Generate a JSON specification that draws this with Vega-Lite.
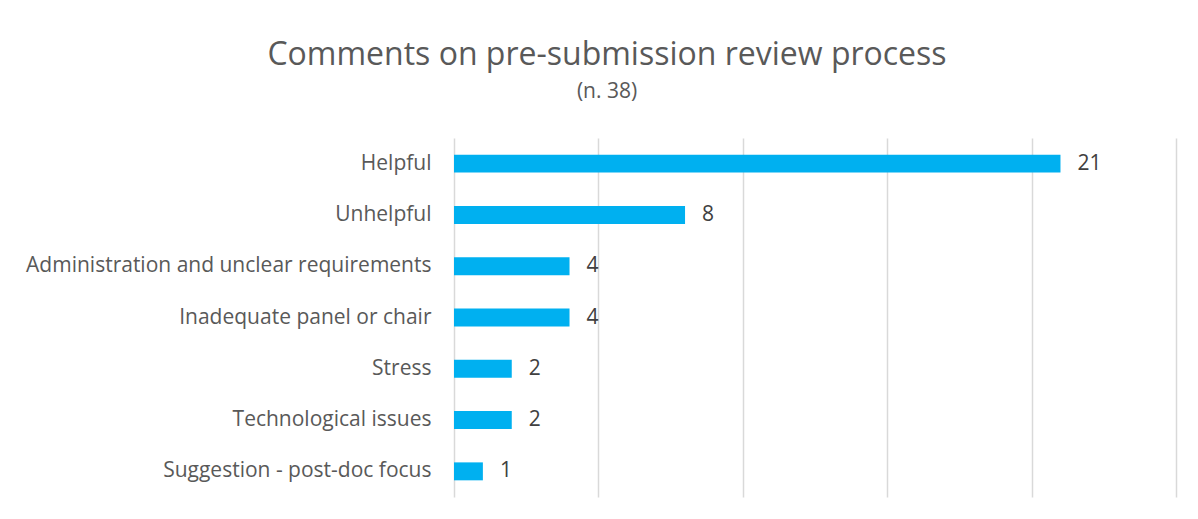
{
  "$schema": "https://vega.github.io/schema/vega-lite/v6.json",
  "autosize": "none",
  "width": 722,
  "height": 359,
  "padding": {"left": 454, "top": 138, "right": 22, "bottom": 22},
  "background": "white",
  "title": {
    "text": "Comments on pre-submission review process",
    "subtitle": "(n. 38)",
    "anchor": "middle",
    "frame": "group",
    "dx": -208,
    "offset": 35,
    "font": "Open Sans",
    "fontSize": 32,
    "fontWeight": "normal",
    "color": "#595959",
    "subtitleFont": "Open Sans",
    "subtitleFontSize": 21,
    "subtitleColor": "#595959",
    "subtitlePadding": 9
  },
  "data": {
    "values": [
      {"category": "Helpful", "count": 21},
      {"category": "Unhelpful", "count": 8},
      {"category": "Administration and unclear requirements", "count": 4},
      {"category": "Inadequate panel or chair", "count": 4},
      {"category": "Stress", "count": 2},
      {"category": "Technological issues", "count": 2},
      {"category": "Suggestion - post-doc focus", "count": 1}
    ]
  },
  "config": {"view": {"stroke": null}},
  "encoding": {
    "y": {
      "field": "category",
      "type": "nominal",
      "sort": null,
      "scale": {"paddingInner": 0.65, "paddingOuter": 0.325},
      "axis": {
        "title": null,
        "domain": false,
        "ticks": false,
        "labelPadding": 23,
        "labelFont": "Open Sans",
        "labelFontSize": 21,
        "labelColor": "#595959",
        "labelLimit": 500
      }
    },
    "x": {
      "field": "count",
      "type": "quantitative",
      "scale": {"domain": [0, 25], "nice": false},
      "axis": {
        "values": [0, 5, 10, 15, 20, 25],
        "title": null,
        "labels": false,
        "ticks": false,
        "domain": false,
        "grid": true,
        "gridColor": "#d9d9d9",
        "gridWidth": 1.5
      }
    }
  },
  "layer": [
    {"mark": {"type": "bar", "color": "#00b0f0"}},
    {
      "mark": {
        "type": "text",
        "align": "left",
        "baseline": "middle",
        "dx": 17,
        "font": "Open Sans",
        "fontSize": 21,
        "color": "#404040"
      },
      "encoding": {"text": {"field": "count", "type": "quantitative"}}
    }
  ]
}
